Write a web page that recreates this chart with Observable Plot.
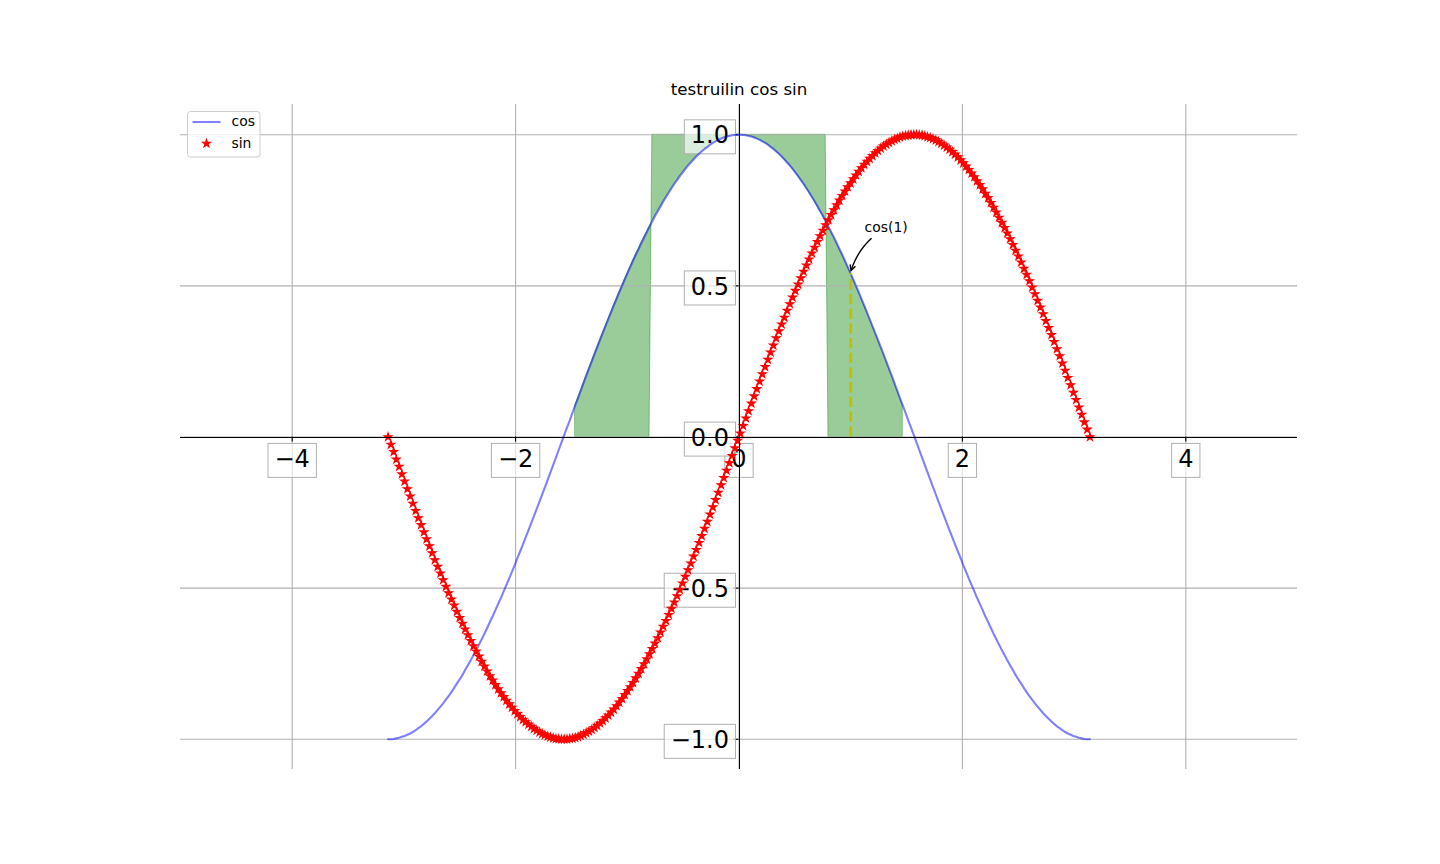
<!DOCTYPE html>
<html><head><meta charset="utf-8">
<script src="https://cdn.jsdelivr.net/npm/d3@7"></script>
<script src="https://cdn.jsdelivr.net/npm/@observablehq/plot@0.6"></script>
<style>html,body{margin:0;padding:0;background:#fff;overflow:hidden}svg{display:block}</style>
</head><body>
<script>
const xValues = [
-3.142, -3.117, -3.092, -3.068, -3.043, -3.018, -2.994, -2.969, -2.944, -2.920, -2.895, -2.871, -2.846, -2.821, -2.797, -2.772,
-2.747, -2.723, -2.698, -2.673, -2.649, -2.624, -2.600, -2.575, -2.550, -2.526, -2.501, -2.476, -2.452, -2.427, -2.402, -2.378,
-2.353, -2.328, -2.304, -2.279, -2.255, -2.230, -2.205, -2.181, -2.156, -2.131, -2.107, -2.082, -2.057, -2.033, -2.008, -1.984,
-1.959, -1.934, -1.910, -1.885, -1.860, -1.836, -1.811, -1.786, -1.762, -1.737, -1.712, -1.688, -1.663, -1.639, -1.614, -1.589,
-1.565, -1.540, -1.515, -1.491, -1.466, -1.441, -1.417, -1.392, -1.368, -1.343, -1.318, -1.294, -1.269, -1.244, -1.220, -1.195,
-1.170, -1.146, -1.121, -1.096, -1.072, -1.047, -1.023, -0.998, -0.973, -0.949, -0.924, -0.899, -0.875, -0.850, -0.825, -0.801,
-0.776, -0.752, -0.727, -0.702, -0.678, -0.653, -0.628, -0.604, -0.579, -0.554, -0.530, -0.505, -0.480, -0.456, -0.431, -0.407,
-0.382, -0.357, -0.333, -0.308, -0.283, -0.259, -0.234, -0.209, -0.185, -0.160, -0.136, -0.111, -0.086, -0.062, -0.037, -0.012,
0.012, 0.037, 0.062, 0.086, 0.111, 0.136, 0.160, 0.185, 0.209, 0.234, 0.259, 0.283, 0.308, 0.333, 0.357, 0.382,
0.407, 0.431, 0.456, 0.480, 0.505, 0.530, 0.554, 0.579, 0.604, 0.628, 0.653, 0.678, 0.702, 0.727, 0.752, 0.776,
0.801, 0.825, 0.850, 0.875, 0.899, 0.924, 0.949, 0.973, 0.998, 1.023, 1.047, 1.072, 1.096, 1.121, 1.146, 1.170,
1.195, 1.220, 1.244, 1.269, 1.294, 1.318, 1.343, 1.368, 1.392, 1.417, 1.441, 1.466, 1.491, 1.515, 1.540, 1.565,
1.589, 1.614, 1.639, 1.663, 1.688, 1.712, 1.737, 1.762, 1.786, 1.811, 1.836, 1.860, 1.885, 1.910, 1.934, 1.959,
1.984, 2.008, 2.033, 2.057, 2.082, 2.107, 2.131, 2.156, 2.181, 2.205, 2.230, 2.255, 2.279, 2.304, 2.328, 2.353,
2.378, 2.402, 2.427, 2.452, 2.476, 2.501, 2.526, 2.550, 2.575, 2.600, 2.624, 2.649, 2.673, 2.698, 2.723, 2.747,
2.772, 2.797, 2.821, 2.846, 2.871, 2.895, 2.920, 2.944, 2.969, 2.994, 3.018, 3.043, 3.068, 3.092, 3.117, 3.142
];
const cosValues = [
-1.000, -1.000, -0.999, -0.997, -0.995, -0.992, -0.989, -0.985, -0.981, -0.976, -0.970, -0.963, -0.957, -0.949, -0.941, -0.932,
-0.923, -0.914, -0.903, -0.892, -0.881, -0.869, -0.857, -0.844, -0.830, -0.816, -0.802, -0.787, -0.771, -0.755, -0.739, -0.722,
-0.705, -0.687, -0.669, -0.651, -0.632, -0.612, -0.593, -0.573, -0.552, -0.532, -0.511, -0.489, -0.468, -0.446, -0.424, -0.401,
-0.378, -0.355, -0.332, -0.309, -0.285, -0.262, -0.238, -0.214, -0.190, -0.166, -0.141, -0.117, -0.092, -0.068, -0.043, -0.018,
0.006, 0.031, 0.055, 0.080, 0.105, 0.129, 0.153, 0.178, 0.202, 0.226, 0.250, 0.274, 0.297, 0.321, 0.344, 0.367,
0.390, 0.412, 0.435, 0.457, 0.479, 0.500, 0.521, 0.542, 0.563, 0.583, 0.603, 0.622, 0.641, 0.660, 0.678, 0.696,
0.714, 0.731, 0.747, 0.763, 0.779, 0.794, 0.809, 0.823, 0.837, 0.850, 0.863, 0.875, 0.887, 0.898, 0.908, 0.918,
0.928, 0.937, 0.945, 0.953, 0.960, 0.967, 0.973, 0.978, 0.983, 0.987, 0.991, 0.994, 0.996, 0.998, 0.999, 1.000,
1.000, 0.999, 0.998, 0.996, 0.994, 0.991, 0.987, 0.983, 0.978, 0.973, 0.967, 0.960, 0.953, 0.945, 0.937, 0.928,
0.918, 0.908, 0.898, 0.887, 0.875, 0.863, 0.850, 0.837, 0.823, 0.809, 0.794, 0.779, 0.763, 0.747, 0.731, 0.714,
0.696, 0.678, 0.660, 0.641, 0.622, 0.603, 0.583, 0.563, 0.542, 0.521, 0.500, 0.479, 0.457, 0.435, 0.412, 0.390,
0.367, 0.344, 0.321, 0.297, 0.274, 0.250, 0.226, 0.202, 0.178, 0.153, 0.129, 0.105, 0.080, 0.055, 0.031, 0.006,
-0.018, -0.043, -0.068, -0.092, -0.117, -0.141, -0.166, -0.190, -0.214, -0.238, -0.262, -0.285, -0.309, -0.332, -0.355, -0.378,
-0.401, -0.424, -0.446, -0.468, -0.489, -0.511, -0.532, -0.552, -0.573, -0.593, -0.612, -0.632, -0.651, -0.669, -0.687, -0.705,
-0.722, -0.739, -0.755, -0.771, -0.787, -0.802, -0.816, -0.830, -0.844, -0.857, -0.869, -0.881, -0.892, -0.903, -0.914, -0.923,
-0.932, -0.941, -0.949, -0.957, -0.963, -0.970, -0.976, -0.981, -0.985, -0.989, -0.992, -0.995, -0.997, -0.999, -1.000, -1.000
];
const sinValues = [
0.000, -0.025, -0.049, -0.074, -0.098, -0.123, -0.147, -0.172, -0.196, -0.220, -0.244, -0.268, -0.291, -0.315, -0.338, -0.361,
-0.384, -0.407, -0.429, -0.451, -0.473, -0.495, -0.516, -0.537, -0.557, -0.578, -0.598, -0.617, -0.636, -0.655, -0.674, -0.692,
-0.709, -0.726, -0.743, -0.759, -0.775, -0.791, -0.805, -0.820, -0.834, -0.847, -0.860, -0.872, -0.884, -0.895, -0.906, -0.916,
-0.926, -0.935, -0.943, -0.951, -0.958, -0.965, -0.971, -0.977, -0.982, -0.986, -0.990, -0.993, -0.996, -0.998, -0.999, -1.000,
-1.000, -1.000, -0.998, -0.997, -0.995, -0.992, -0.988, -0.984, -0.979, -0.974, -0.968, -0.962, -0.955, -0.947, -0.939, -0.930,
-0.921, -0.911, -0.901, -0.890, -0.878, -0.866, -0.853, -0.840, -0.827, -0.813, -0.798, -0.783, -0.767, -0.751, -0.735, -0.718,
-0.701, -0.683, -0.665, -0.646, -0.627, -0.608, -0.588, -0.568, -0.547, -0.526, -0.505, -0.484, -0.462, -0.440, -0.418, -0.395,
-0.373, -0.350, -0.327, -0.303, -0.280, -0.256, -0.232, -0.208, -0.184, -0.159, -0.135, -0.111, -0.086, -0.062, -0.037, -0.012,
0.012, 0.037, 0.062, 0.086, 0.111, 0.135, 0.159, 0.184, 0.208, 0.232, 0.256, 0.280, 0.303, 0.327, 0.350, 0.373,
0.395, 0.418, 0.440, 0.462, 0.484, 0.505, 0.526, 0.547, 0.568, 0.588, 0.608, 0.627, 0.646, 0.665, 0.683, 0.701,
0.718, 0.735, 0.751, 0.767, 0.783, 0.798, 0.813, 0.827, 0.840, 0.853, 0.866, 0.878, 0.890, 0.901, 0.911, 0.921,
0.930, 0.939, 0.947, 0.955, 0.962, 0.968, 0.974, 0.979, 0.984, 0.988, 0.992, 0.995, 0.997, 0.998, 1.000, 1.000,
1.000, 0.999, 0.998, 0.996, 0.993, 0.990, 0.986, 0.982, 0.977, 0.971, 0.965, 0.958, 0.951, 0.943, 0.935, 0.926,
0.916, 0.906, 0.895, 0.884, 0.872, 0.860, 0.847, 0.834, 0.820, 0.805, 0.791, 0.775, 0.759, 0.743, 0.726, 0.709,
0.692, 0.674, 0.655, 0.636, 0.617, 0.598, 0.578, 0.557, 0.537, 0.516, 0.495, 0.473, 0.451, 0.429, 0.407, 0.384,
0.361, 0.338, 0.315, 0.291, 0.268, 0.244, 0.220, 0.196, 0.172, 0.147, 0.123, 0.098, 0.074, 0.049, 0.025, 0.000
];
const seriesNames = ["cos", "sin"];
const xTicks = [-4, -2, 0, 2, 4];
const xTickLabels = ["\u22124", "\u22122", "0", "2", "4"];
const yTicks = [-1, -0.5, 0, 0.5, 1];
const yTickLabels = ["\u22121.0", "\u22120.5", "0.0", "0.5", "1.0"];
const titleText = ["testruilin cos sin"];
const annoX = [1];
const annoY = [0.540];
const annoLabel = ["cos(1)"];
const spineAt = [0];
const fillWhereCosAbove = 0.1;
const fillBandHalfWidth = 0.8;

const data = xValues.map((x, i) => ({x, cos: cosValues[i], sin: sinValues[i]}));

const W = 1440, H = 864, mL = 180, mR = 143, mT = 104, mB = 95;
const pxPerY = (H - mT - mB) / 2.2, pxPerX = (W - mL - mR) / 10;
const tickLen = 4.9;
const FONT = "'DejaVu Sans', sans-serif";

const chart = Plot.plot({
  width: W, height: H,
  marginLeft: mL, marginRight: mR, marginTop: mT, marginBottom: mB,
  x: {domain: [-5, 5], axis: null},
  y: {domain: [-1.1, 1.1], axis: null},
  style: {fontFamily: FONT, background: "white"},
  marks: [
    Plot.areaY(data, {
      filter: d => d.cos > fillWhereCosAbove,
      x: "x",
      y1: d => Math.abs(d.x) < fillBandHalfWidth ? 1 : 0,
      y2: "cos",
      fill: "green", fillOpacity: 0.4, stroke: "green", strokeOpacity: 0.4, strokeWidth: 1
    }),
    Plot.ruleX(xTicks, {x: d => d, stroke: "#b0b0b0", strokeWidth: 1.1}),
    Plot.ruleY(yTicks, {y: d => d, stroke: "#b0b0b0", strokeWidth: 1.1}),
    Plot.ruleX(xTicks, {x: d => d, y1: 0, y2: -tickLen / pxPerY, stroke: "black", strokeWidth: 1.1}),
    Plot.ruleY(yTicks, {y: d => d, x1: 0, x2: -tickLen / pxPerX, stroke: "black", strokeWidth: 1.1}),
    Plot.text(xTicks, {
      x: d => d, y: d => 0, text: (d, i) => xTickLabels[i],
      dy: 30, lineAnchor: "bottom", textAnchor: "middle", fontSize: 24, fill: "black",
      ariaDescription: "ticklabel"
    }),
    Plot.text(yTicks, {
      x: d => 0, y: d => d, text: (d, i) => yTickLabels[i],
      dx: -10, dy: 8.7, lineAnchor: "bottom", textAnchor: "end", fontSize: 24, fill: "black",
      ariaDescription: "ticklabel"
    }),
    Plot.line(data, {x: "x", y: "cos", stroke: "blue", strokeOpacity: 0.5, strokeWidth: 2.08}),
    Plot.dot(data, {x: "x", y: "sin", symbol: "star", r: 2.5, fill: "red", stroke: "red", strokeWidth: 1.1}),
    Plot.ruleX(annoX, {x: d => d, y1: 0, y2: (d, i) => annoY[i], stroke: "#bfbf00", strokeWidth: 2.8, strokeDasharray: "10.3,4.4"}),
    Plot.ruleX(spineAt, {x: d => d, stroke: "black", strokeWidth: 1, shapeRendering: "crispEdges"}),
    Plot.ruleY(spineAt, {y: d => d, stroke: "black", strokeWidth: 1, shapeRendering: "crispEdges"}),
    Plot.text(annoLabel, {
      x: (d, i) => annoX[i], y: (d, i) => annoY[i], text: d => d,
      dx: 13.9, dy: -41.7, textAnchor: "start", lineAnchor: "bottom", fontSize: 13.9, fill: "black",
      ariaDescription: "annotation"
    }),
    Plot.text(titleText, {frameAnchor: "top", text: d => d, dy: -15, lineAnchor: "middle", fontSize: 16.7, fill: "black"})
  ]
});
document.body.appendChild(chart);

const NS = "http://www.w3.org/2000/svg";
// boxes behind tick labels
chart.querySelectorAll('g[aria-description="ticklabel"] text').forEach(t => {
  const bb = t.getBBox();
  const tr = t.getAttribute("transform");
  let baseY = 0;
  if (!tr) { const yy = parseFloat(t.getAttribute("y")); baseY = isNaN(yy) ? 0 : yy; }
  const r = document.createElementNS(NS, "rect");
  if (tr) r.setAttribute("transform", tr);
  r.setAttribute("x", bb.x - 6.5);
  r.setAttribute("width", bb.width + 13);
  r.setAttribute("y", baseY - 23.6);
  r.setAttribute("height", 34);
  r.setAttribute("fill", "white");
  r.setAttribute("fill-opacity", 0.65);
  r.setAttribute("stroke", "#b0b0b0");
  r.setAttribute("stroke-width", 1);
  t.parentNode.insertBefore(r, t);
});

// annotation arrow (arc3, rad=0.2, "->")
(function () {
  const sx = chart.scale("x"), sy = chart.scale("y");
  const P2 = [sx.apply(annoX[0]), sy.apply(annoY[0])];
  const fs = 13.9;
  const textEl = chart.querySelector('g[aria-description="annotation"] text');
  const tw = textEl ? textEl.getBoundingClientRect().width : 40;
  const left = P2[0] + 13.9, base = P2[1] - 41.7;
  const top = base - 0.76 * fs, bottom = base + 0.24 * fs;
  const P0 = [left + tw / 2, (top + bottom) / 2];
  const pad = 1.4;
  const box = {x0: left - pad, x1: left + tw + pad, y0: top - pad, y1: bottom + pad};
  const dx = P2[0] - P0[0], dy = P2[1] - P0[1];
  const C = [(P0[0] + P2[0]) / 2 - 0.2 * dy, (P0[1] + P2[1]) / 2 + 0.2 * dx];
  let pts = [];
  for (let k = 0; k <= 1000; k++) {
    const t = k / 1000, u = 1 - t;
    const p = [u * u * P0[0] + 2 * u * t * C[0] + t * t * P2[0], u * u * P0[1] + 2 * u * t * C[1] + t * t * P2[1]];
    if (p[0] >= box.x0 && p[0] <= box.x1 && p[1] >= box.y0 && p[1] <= box.y1) continue;
    pts.push(p);
  }
  const shrink = 2.8;
  const trim = arr => { let acc = 0; let i = 1; while (i < arr.length && acc < shrink) { acc += Math.hypot(arr[i][0] - arr[i-1][0], arr[i][1] - arr[i-1][1]); i++; } return arr.slice(i - 1); };
  pts = trim(pts); pts = trim(pts.reverse()).reverse();
  const E = pts[pts.length - 1], Pv = pts[pts.length - 8];
  const L = Math.hypot(E[0] - Pv[0], E[1] - Pv[1]);
  const ux = (E[0] - Pv[0]) / L, uy = (E[1] - Pv[1]) / L;
  const hl = 0.4 * fs, hw = 0.2 * fs;
  const a = [E[0] - hl * ux - hw * uy, E[1] - hl * uy + hw * ux];
  const b = [E[0] - hl * ux + hw * uy, E[1] - hl * uy - hw * ux];
  const g = d3.select(chart).append("g");
  g.append("path").attr("d", d3.line()(pts)).attr("fill", "none").attr("stroke", "black").attr("stroke-width", 1.39);
  g.append("path").attr("d", d3.line()([a, E, b])).attr("fill", "none").attr("stroke", "black").attr("stroke-width", 1.39);
})();

// legend
(function () {
  const lx = mL + 7.5, ly = mT + 7.5, fs = 13.9;
  const lg = d3.select(chart).append("g").attr("font-family", FONT).attr("font-size", fs).attr("text-anchor", "start");
  lg.append("rect").attr("x", lx).attr("y", ly).attr("width", 72.5).attr("height", 45.5).attr("rx", 2.8)
    .attr("fill", "white").attr("fill-opacity", 0.8).attr("stroke", "#cccccc").attr("stroke-width", 1);
  const rows = [ly + 10.5, ly + 32];
  lg.append("line").attr("x1", lx + 5).attr("x2", lx + 33).attr("y1", rows[0]).attr("y2", rows[0])
    .attr("stroke", "blue").attr("stroke-opacity", 0.5).attr("stroke-width", 2.08);
  lg.append("path").attr("d", d3.symbol(d3.symbolStar, 2.5 * 2.5 * Math.PI)())
    .attr("transform", `translate(${lx + 19},${rows[1]})`).attr("fill", "red").attr("stroke", "red").attr("stroke-width", 1.1);
  seriesNames.forEach((name, i) => {
    lg.append("text").attr("x", lx + 44).attr("y", rows[i]).attr("dy", "0.32em")
      .attr("text-anchor", "start").attr("fill", "black").text(name);
  });
})();
</script>
</body></html>
